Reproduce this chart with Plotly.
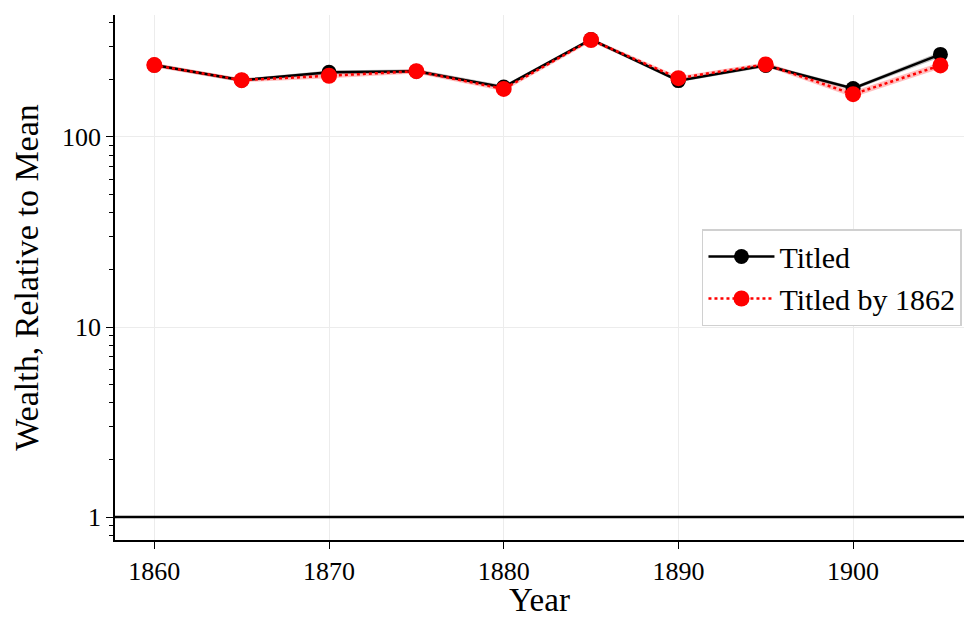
import plotly.graph_objects as go

years = [1860, 1865, 1870, 1875, 1880, 1885, 1890, 1895, 1900, 1905]
titled = [239, 199, 219, 222, 183, 326, 198, 238, 180, 272]
titled_lo = [234, 195, 214, 217, 179, 319, 194, 233, 176, 263]
titled_hi = [244, 203, 224, 227, 187, 333, 202, 243, 184, 281]
titled1862 = [239, 199, 210, 222, 179, 324, 204, 241, 168, 238]
titled1862_lo = [233, 194, 204, 216, 174, 316, 199, 235, 162, 229]
titled1862_hi = [245, 204, 216, 228, 184, 332, 209, 247, 174, 247]

xticks = [1860, 1870, 1880, 1890, 1900]
yticks = [1, 10, 100]
yticktext = ["1", "10", "100"]
yminor = [0.8, 0.9, 2, 3, 4, 5, 6, 7, 8, 9, 20, 30, 40, 50, 60, 70, 80, 90, 200, 300, 400]
ref_value = 1
XRANGE = [1857.75, 1906.35]
YRANGE_LOG = [-0.121, 2.642]

FONT = "Liberation Serif"

fig = go.Figure()

# bands
fig.add_trace(go.Scatter(x=years, y=titled_hi, mode="lines", line=dict(width=0, color="rgba(0,0,0,0)"),
                         showlegend=False, hoverinfo="skip"))
fig.add_trace(go.Scatter(x=years, y=titled_lo, mode="lines", line=dict(width=0, color="rgba(0,0,0,0)"),
                         fill="tonexty", fillcolor="rgba(0,0,0,0.25)", showlegend=False, hoverinfo="skip"))
fig.add_trace(go.Scatter(x=years, y=titled1862_hi, mode="lines", line=dict(width=0, color="rgba(0,0,0,0)"),
                         showlegend=False, hoverinfo="skip"))
fig.add_trace(go.Scatter(x=years, y=titled1862_lo, mode="lines", line=dict(width=0, color="rgba(0,0,0,0)"),
                         fill="tonexty", fillcolor="rgba(255,0,0,0.25)", showlegend=False, hoverinfo="skip"))

# reference line
fig.add_trace(go.Scatter(x=XRANGE, y=[ref_value, ref_value], mode="lines",
                         line=dict(color="black", width=2.5), showlegend=False, hoverinfo="skip",
                         cliponaxis=False))

fig.add_trace(go.Scatter(x=years, y=titled, mode="lines+markers", name="Titled",
                         line=dict(color="black", width=2.5),
                         marker=dict(color="black", size=15)))
fig.add_trace(go.Scatter(x=years, y=titled1862, mode="lines+markers", name="Titled by 1862",
                         line=dict(color="red", width=2.5, dash="dot"),
                         marker=dict(color="red", size=16)))

fig.update_layout(
    width=964, height=618,
    margin=dict(l=115, r=0, t=15, b=78),
    paper_bgcolor="white", plot_bgcolor="white",
    font=dict(family=FONT, color="black", size=26),
    legend=dict(x=0.9976, xanchor="right", y=0.5, yanchor="middle", traceorder="normal",
                bgcolor="white", bordercolor="#d0d0d0", borderwidth=1.5, itemwidth=66,
                font=dict(size=30, family=FONT)),
    showlegend=True,
)
fig.update_xaxes(
    range=XRANGE, tickvals=xticks, ticks="outside", ticklen=7, tickwidth=1.2, tickcolor="black",
    showline=True, linecolor="black", linewidth=1.5, mirror=False,
    showgrid=True, gridcolor="#ececec", gridwidth=1, zeroline=False,
    tickfont=dict(size=26, family=FONT),
    title=dict(text="Year", font=dict(size=33, family=FONT), standoff=9),
)
fig.update_yaxes(
    type="log", range=YRANGE_LOG, tickvals=yticks, ticktext=yticktext,
    ticks="outside", ticklen=7, tickwidth=1.2, tickcolor="black",
    minor=dict(tickvals=yminor, ticks="outside", ticklen=4, tickwidth=1, tickcolor="black", showgrid=False),
    showline=True, linecolor="black", linewidth=1.5,
    showgrid=True, gridcolor="#ececec", gridwidth=1, zeroline=False,
    tickfont=dict(size=26, family=FONT),
    title=dict(text="Wealth, Relative to Mean", font=dict(size=34, family=FONT), standoff=13),
)

fig.write_html("out.html")
